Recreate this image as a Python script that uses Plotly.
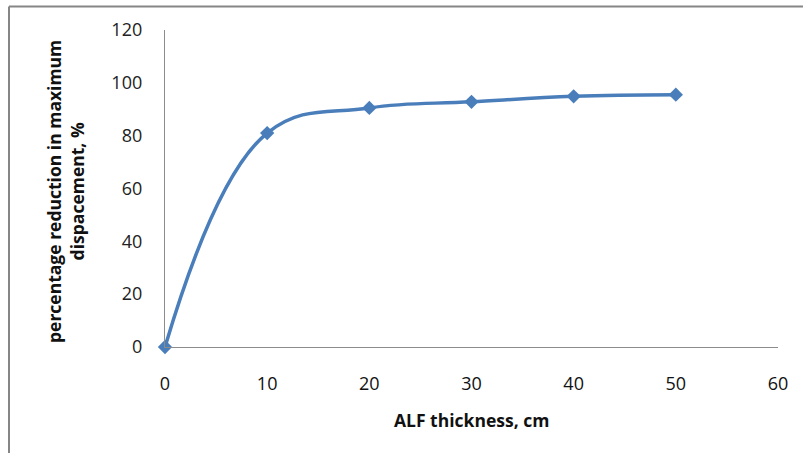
import plotly.graph_objects as go

# ALF thickness (cm) and the resulting reduction in maximum displacement (%)
thickness_cm = [0, 10, 20, 30, 40, 50]
reduction_pct = [0, 81, 90.5, 92.8, 94.9, 95.5]

x_ticks = [0, 10, 20, 30, 40, 50, 60]
y_ticks = [0, 20, 40, 60, 80, 100, 120]

W, H = 803, 453
ML, MR, MT, MB = 165, 25, 30, 106
PW, PH = W - ML - MR, H - MT - MB

def px_x(p):
    return (p - ML) / PW

def px_y(p):
    return (H - MB - p) / PH

blue = "#4A7EBB"
axis_grey = "#8C8C8C"
font_family = "Open Sans"

fig = go.Figure()
fig.add_trace(go.Scatter(
    x=thickness_cm,
    y=reduction_pct,
    mode="lines+markers",
    line=dict(color=blue, width=3.5, shape="spline", smoothing=1.15),
    marker=dict(symbol="diamond", size=11, color=blue),
    cliponaxis=False,
    showlegend=False,
))

fig.update_layout(
    width=W, height=H,
    margin=dict(l=ML, r=MR, t=MT, b=MB),
    paper_bgcolor="white",
    plot_bgcolor="white",
    font=dict(family=font_family, size=18, color="#222222"),
    xaxis=dict(
        range=[0, 60], tickvals=x_ticks, showgrid=False, zeroline=False,
        showline=True, linecolor=axis_grey, linewidth=1.3,
        ticks="", ticklabelstandoff=20,
        tickfont=dict(size=18, color="#111111"),
    ),
    yaxis=dict(
        range=[0, 120], tickvals=y_ticks, showgrid=False, zeroline=False,
        showline=True, linecolor=axis_grey, linewidth=1.3,
        ticks="", ticklabelstandoff=18,
        tickfont=dict(size=18, color="#222222"),
    ),
    annotations=[
        dict(
            text="<b>ALF thickness, cm</b>",
            xref="paper", yref="paper", x=px_x(471), y=px_y(420),
            xanchor="center", yanchor="middle", showarrow=False,
            font=dict(size=17.5, color="#111111"),
        ),
        dict(
            text="<b>percentage reduction in maximum<br>dispacement, %</b>",
            xref="paper", yref="paper", x=px_x(66), y=px_y(192),
            xanchor="center", yanchor="middle", showarrow=False,
            textangle=-90,
            font=dict(size=17.5, color="#111111"),
        ),
    ],
    shapes=[
        dict(type="line", xref="paper", yref="paper",
             x0=px_x(9), y0=px_y(H + 5), x1=px_x(9), y1=px_y(6.5),
             line=dict(color="#868686", width=2)),
        dict(type="line", xref="paper", yref="paper",
             x0=px_x(9), y0=px_y(6.5), x1=px_x(W + 5), y1=px_y(6.5),
             line=dict(color="#868686", width=2)),
    ],
)

fig.write_html("out.html")
